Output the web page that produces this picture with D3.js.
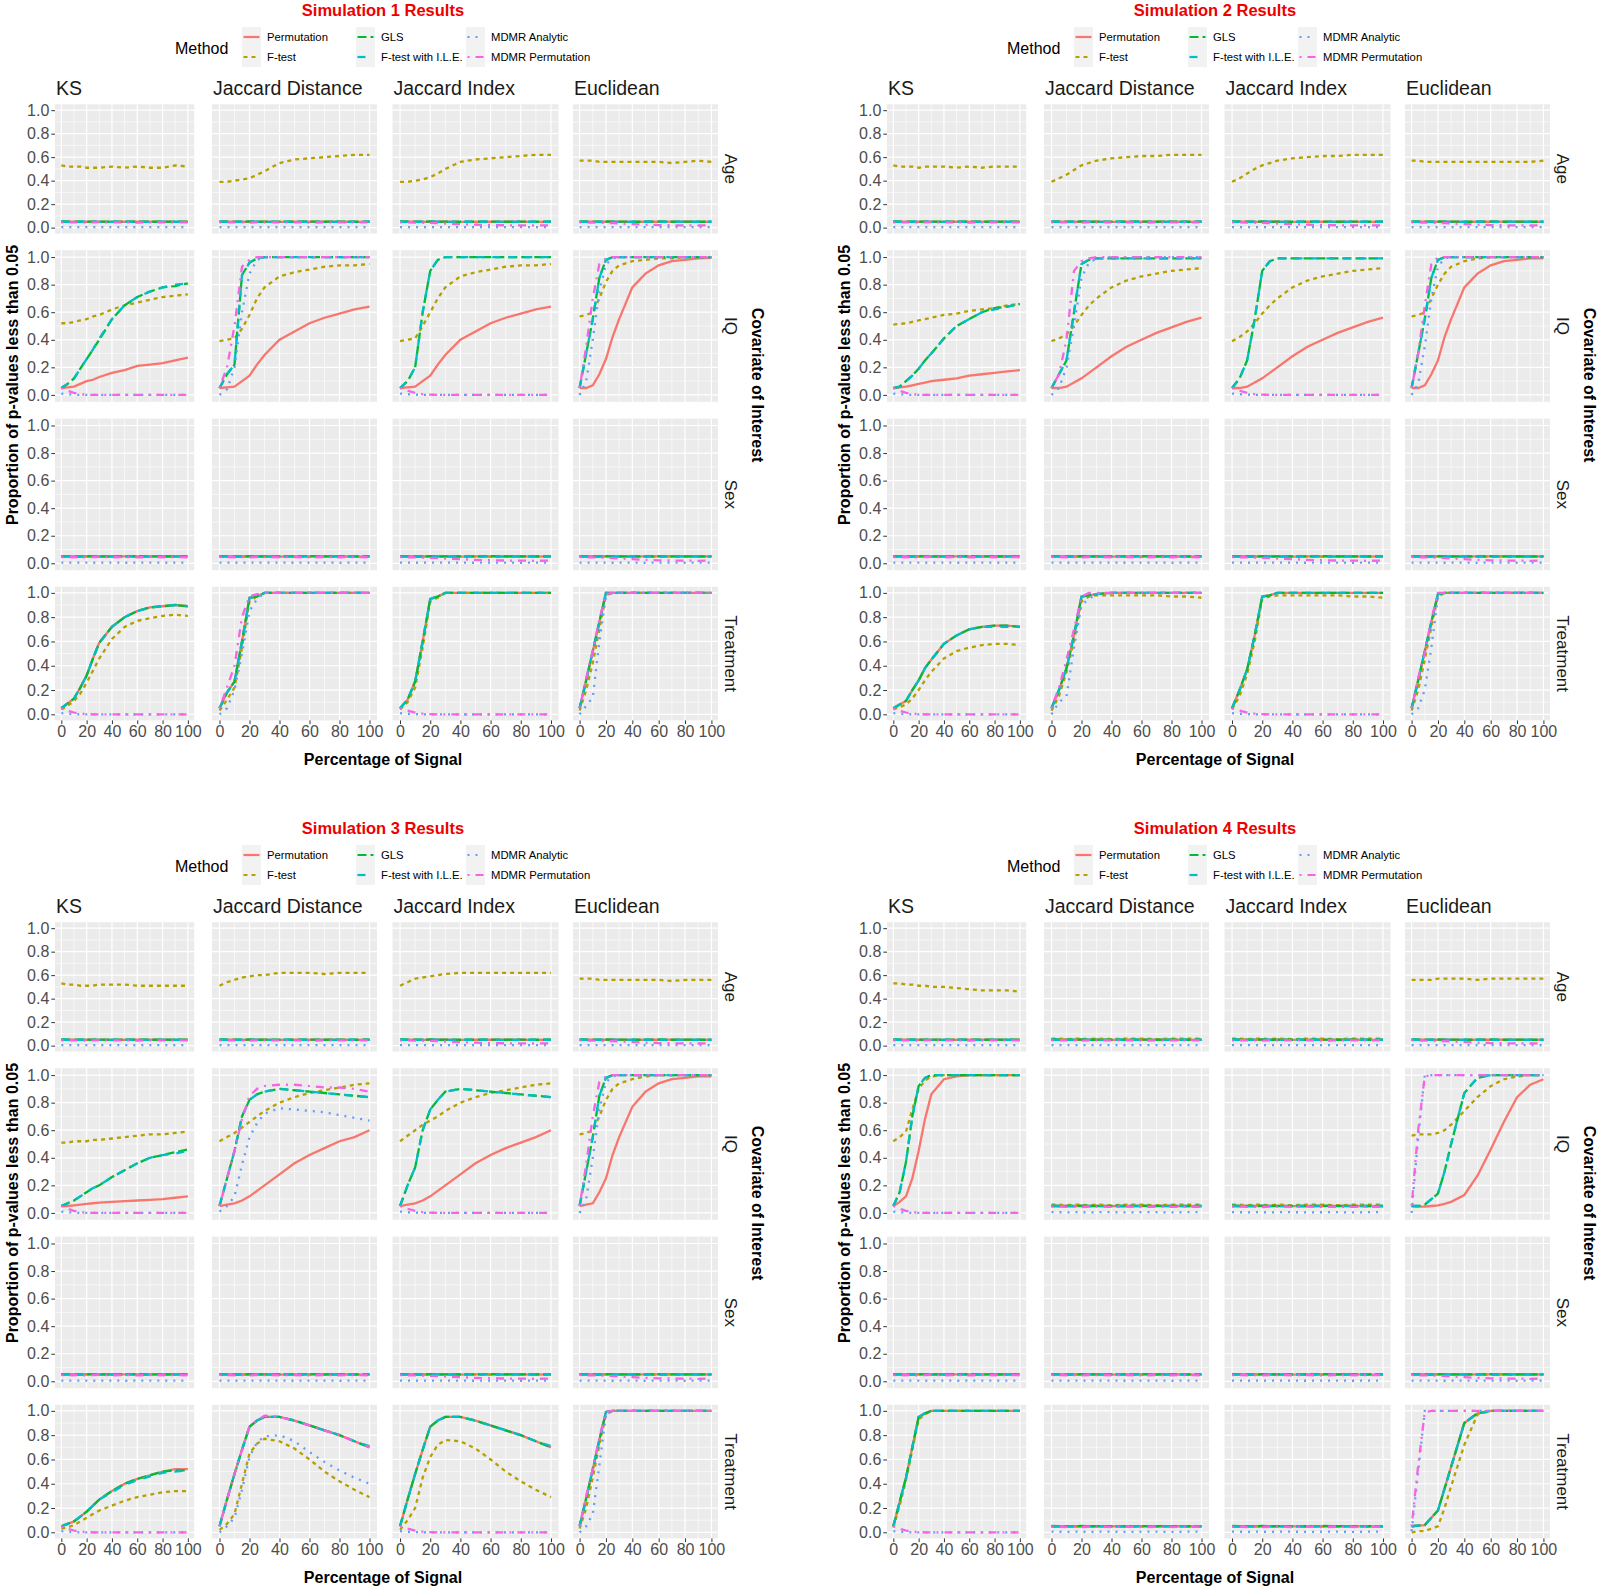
<!DOCTYPE html>
<html><head><meta charset="utf-8">
<script src="https://cdn.jsdelivr.net/npm/d3@7"></script>
<style>body{margin:0;background:#fff} text{font-family:"Liberation Sans", Arial, sans-serif}</style>
</head><body><svg id="chart" width="1600" height="1591"></svg>
<script>
// ---------- categories / labels ----------
const xPct = [0,5,10,15,20,25,30,40,50,60,70,80,90,100];
const methods = ["Permutation","F-test","GLS","F-test with I.L.E.","MDMR Analytic","MDMR Permutation"];
const methodColors = ["#F8766D","#B79F00","#00BA38","#00BFC4","#619CFF","#F564E3"];
const methodDash = ["", "4,4", "9,4", "8,8", "2,6", "2,6,8,6"];
const metrics = ["KS","Jaccard Distance","Jaccard Index","Euclidean"];
const covariates = ["Age","IQ","Sex","Treatment"];
const simTitles = ["Simulation 1 Results","Simulation 2 Results","Simulation 3 Results","Simulation 4 Results"];
const xTicks = [0,20,40,60,80,100];
const xMinor = [10,30,50,70,90];
const yTicks = [0,0.2,0.4,0.6,0.8,1.0];
const yMinor = [0.1,0.3,0.5,0.7,0.9];

// ---------- null-level series ----------
const nullPerm = [0.05,0.051,0.05,0.049,0.05,0.051,0.05,0.049,0.05,0.05,0.051,0.05,0.049,0.05];
const nullF    = [0.05,0.049,0.051,0.05,0.05,0.049,0.05,0.051,0.05,0.049,0.05,0.05,0.051,0.05];
const nullF6   = [0.06,0.06,0.055,0.06,0.06,0.055,0.06,0.055,0.06,0.06,0.055,0.06,0.06,0.06];
const nullGLS  = [0.052,0.05,0.051,0.05,0.052,0.05,0.051,0.05,0.05,0.052,0.05,0.051,0.05,0.05];
const nullILE  = [0.05,0.05,0.049,0.05,0.05,0.05,0.049,0.05,0.05,0.05,0.049,0.05,0.05,0.05];
const nullMA   = [0.005,0.005,0.004,0.005,0.005,0.004,0.005,0.005,0.004,0.005,0.005,0.004,0.005,0.005];
const nullMP   = [0.045,0.046,0.044,0.045,0.043,0.045,0.046,0.044,0.045,0.043,0.045,0.044,0.045,0.044];
const nullMPdip= [0.045,0.044,0.043,0.042,0.04,0.038,0.035,0.03,0.025,0.022,0.02,0.02,0.018,0.02];
const decayMA  = [0.01,0.005,0.002,0,0,0,0,0,0,0,0,0,0,0];
const decayMP  = [0.05,0.03,0.015,0.005,0.002,0,0,0,0,0,0,0,0,0];

// ---------- Simulation 1 ----------
const s1Age = {
  "KS": [nullPerm,[0.53,0.52,0.52,0.52,0.51,0.51,0.51,0.52,0.51,0.52,0.51,0.51,0.53,0.52],nullGLS,nullILE,nullMA,nullMP],
  "Jaccard Distance": [nullPerm,[0.39,0.39,0.40,0.41,0.42,0.45,0.48,0.55,0.58,0.59,0.60,0.61,0.62,0.62],nullGLS,nullILE,nullMA,nullMP],
  "Jaccard Index": [nullPerm,[0.39,0.39,0.40,0.41,0.43,0.46,0.50,0.56,0.58,0.59,0.60,0.61,0.62,0.62],nullGLS,nullILE,nullMA,nullMPdip],
  "Euclidean": [nullPerm,[0.57,0.57,0.57,0.56,0.56,0.56,0.56,0.56,0.56,0.56,0.55,0.56,0.57,0.56],nullGLS,nullILE,nullMA,nullMPdip]
};
const s1IQ = {
  "KS": [[0.05,0.055,0.06,0.08,0.10,0.11,0.13,0.16,0.18,0.21,0.22,0.23,0.25,0.27],
         [0.52,0.52,0.53,0.54,0.55,0.57,0.58,0.62,0.65,0.67,0.69,0.71,0.72,0.73],
         [0.05,0.08,0.12,0.19,0.26,0.33,0.40,0.55,0.65,0.71,0.75,0.78,0.79,0.81],
         [0.05,0.08,0.12,0.19,0.26,0.33,0.41,0.55,0.65,0.71,0.75,0.78,0.80,0.81],decayMA,decayMP],
  "Jaccard Distance": [[0.05,0.055,0.06,0.10,0.14,0.22,0.29,0.40,0.46,0.52,0.56,0.59,0.62,0.64],
         [0.39,0.40,0.41,0.48,0.58,0.70,0.78,0.86,0.89,0.91,0.93,0.94,0.94,0.95],
         [0.05,0.15,0.22,0.87,0.96,0.99,1,1,1,1,1,1,1,1],
         [0.05,0.15,0.22,0.87,0.96,0.99,1,1,1,1,1,1,1,1],
         [0,0.04,0.2,0.6,0.88,0.98,1,1,1,1,1,1,1,1],
         [0.05,0.2,0.5,0.93,0.98,1,1,1,1,1,1,1,1,1]],
  "Jaccard Index": [[0.05,0.055,0.06,0.10,0.14,0.22,0.29,0.40,0.46,0.52,0.56,0.59,0.62,0.64],
         [0.39,0.40,0.41,0.50,0.60,0.70,0.78,0.86,0.89,0.91,0.93,0.94,0.94,0.95],
         [0.05,0.1,0.2,0.6,0.9,0.98,1,1,1,1,1,1,1,1],
         [0.05,0.1,0.2,0.6,0.9,0.98,1,1,1,1,1,1,1,1],decayMA,decayMP],
  "Euclidean": [[0.05,0.05,0.07,0.15,0.26,0.42,0.55,0.78,0.88,0.94,0.97,0.98,0.99,0.995],
         [0.57,0.58,0.60,0.70,0.82,0.90,0.94,0.97,0.98,0.99,0.99,1,1,1],
         [0.05,0.3,0.55,0.85,0.98,1,1,1,1,1,1,1,1,1],
         [0.05,0.3,0.55,0.85,0.98,1,1,1,1,1,1,1,1,1],
         [0,0.1,0.4,0.75,0.95,0.99,1,1,1,1,1,1,1,1],
         [0.05,0.35,0.7,0.95,0.99,1,1,1,1,1,1,1,1,1]]
};
const s1Sex = {
  "KS": [nullPerm,nullF,nullGLS,nullILE,nullMA,nullMP],
  "Jaccard Distance": [nullPerm,nullF,nullGLS,nullILE,nullMA,nullMP],
  "Jaccard Index": [nullPerm,nullF,nullGLS,nullILE,nullMA,nullMPdip],
  "Euclidean": [nullPerm,nullF,nullGLS,nullILE,nullMA,nullMPdip]
};
const s1Trt = {
  "KS": [[0.05,0.09,0.13,0.22,0.32,0.46,0.59,0.72,0.80,0.85,0.88,0.89,0.90,0.89],
         [0.04,0.07,0.11,0.17,0.26,0.36,0.46,0.62,0.72,0.77,0.79,0.81,0.82,0.81],
         [0.05,0.09,0.13,0.22,0.32,0.46,0.59,0.72,0.80,0.85,0.88,0.89,0.90,0.89],
         [0.05,0.09,0.13,0.22,0.32,0.46,0.59,0.72,0.80,0.85,0.88,0.89,0.90,0.89],decayMA,decayMP],
  "Jaccard Distance": [[0.05,0.18,0.27,0.6,0.96,0.97,1,1,1,1,1,1,1,1],
         [0.03,0.12,0.22,0.55,0.93,0.97,1,1,1,1,1,1,1,1],
         [0.05,0.18,0.27,0.6,0.96,0.97,1,1,1,1,1,1,1,1],
         [0.05,0.18,0.27,0.6,0.96,0.97,1,1,1,1,1,1,1,1],
         [0,0.05,0.2,0.5,0.85,0.95,1,1,1,1,1,1,1,1],
         [0.05,0.22,0.4,0.8,0.97,0.99,1,1,1,1,1,1,1,1]],
  "Jaccard Index": [[0.05,0.12,0.27,0.6,0.95,0.97,1,1,1,1,1,1,1,1],
         [0.04,0.1,0.22,0.55,0.93,0.96,1,1,1,1,1,1,1,1],
         [0.05,0.12,0.27,0.6,0.95,0.97,1,1,1,1,1,1,1,1],
         [0.05,0.12,0.27,0.6,0.95,0.97,1,1,1,1,1,1,1,1],decayMA,decayMP],
  "Euclidean": [[0.05,0.28,0.52,0.76,1,1,1,1,1,1,1,1,1,1],
         [0.03,0.2,0.42,0.7,0.98,1,1,1,1,1,1,1,1,1],
         [0.05,0.28,0.52,0.76,1,1,1,1,1,1,1,1,1,1],
         [0.05,0.28,0.52,0.76,1,1,1,1,1,1,1,1,1,1],
         [0,0.07,0.14,0.6,0.97,1,1,1,1,1,1,1,1,1],
         [0.05,0.3,0.52,0.78,0.99,1,1,1,1,1,1,1,1,1]]
};

// ---------- Simulation 2 ----------
const s2Age = {
  "KS": [nullPerm,[0.53,0.52,0.52,0.52,0.51,0.52,0.52,0.52,0.51,0.52,0.51,0.52,0.52,0.52],nullGLS,nullILE,nullMA,nullMP],
  "Jaccard Distance": [nullPerm,[0.39,0.42,0.45,0.49,0.53,0.55,0.57,0.59,0.60,0.61,0.61,0.62,0.62,0.62],nullGLS,nullILE,nullMA,nullMP],
  "Jaccard Index": [nullPerm,[0.39,0.42,0.46,0.50,0.53,0.55,0.57,0.59,0.60,0.61,0.61,0.62,0.62,0.62],nullGLS,nullILE,nullMA,nullMPdip],
  "Euclidean": [nullPerm,[0.57,0.57,0.56,0.56,0.56,0.56,0.56,0.56,0.56,0.56,0.56,0.56,0.56,0.57],nullGLS,nullILE,nullMA,nullMPdip]
};
const s2IQ = {
  "KS": [[0.05,0.055,0.06,0.07,0.08,0.09,0.10,0.11,0.12,0.14,0.15,0.16,0.17,0.18],
         [0.51,0.515,0.52,0.53,0.54,0.55,0.56,0.58,0.59,0.61,0.62,0.63,0.65,0.66],
         [0.05,0.06,0.10,0.14,0.19,0.25,0.30,0.41,0.50,0.55,0.60,0.63,0.64,0.66],
         [0.05,0.06,0.10,0.14,0.19,0.25,0.30,0.41,0.50,0.55,0.60,0.62,0.64,0.66],decayMA,decayMP],
  "Jaccard Distance": [[0.05,0.05,0.06,0.09,0.12,0.16,0.20,0.28,0.35,0.40,0.45,0.49,0.53,0.56],
         [0.39,0.41,0.44,0.50,0.58,0.65,0.70,0.78,0.83,0.86,0.88,0.90,0.91,0.92],
         [0.05,0.15,0.25,0.6,0.95,0.98,0.99,0.99,0.99,0.99,0.99,0.99,0.99,0.99],
         [0.05,0.15,0.25,0.6,0.95,0.98,0.99,0.99,0.99,0.99,0.99,0.99,0.99,0.99],
         [0,0.05,0.2,0.5,0.85,0.96,0.99,1,1,1,1,1,1,1],
         [0.05,0.15,0.4,0.9,0.97,0.99,1,1,1,1,1,1,1,1]],
  "Jaccard Index": [[0.05,0.05,0.06,0.09,0.12,0.16,0.20,0.28,0.35,0.40,0.45,0.49,0.53,0.56],
         [0.39,0.42,0.46,0.52,0.59,0.65,0.70,0.78,0.83,0.86,0.88,0.90,0.91,0.92],
         [0.05,0.12,0.25,0.55,0.9,0.97,0.99,0.99,0.99,0.99,0.99,0.99,0.99,0.99],
         [0.05,0.12,0.25,0.55,0.9,0.97,0.99,0.99,0.99,0.99,0.99,0.99,0.99,0.99],decayMA,decayMP],
  "Euclidean": [[0.05,0.05,0.07,0.15,0.25,0.42,0.55,0.78,0.88,0.94,0.97,0.98,0.99,0.99],
         [0.57,0.58,0.60,0.70,0.80,0.88,0.93,0.97,0.99,1,1,1,1,1],
         [0.05,0.3,0.55,0.85,0.98,1,1,1,1,1,1,1,1,1],
         [0.05,0.3,0.55,0.85,0.98,1,1,1,1,1,1,1,1,1],
         [0,0.08,0.35,0.7,0.93,0.99,1,1,1,1,1,1,1,1],
         [0.05,0.3,0.65,0.95,1,1,1,1,1,1,1,1,1,1]]
};
const s2Sex = {
  "KS": [nullPerm,nullF,nullGLS,nullILE,nullMA,nullMP],
  "Jaccard Distance": [nullPerm,nullF,nullGLS,nullILE,nullMA,nullMP],
  "Jaccard Index": [nullPerm,nullF,nullGLS,nullILE,nullMA,nullMPdip],
  "Euclidean": [nullPerm,nullF,nullGLS,nullILE,nullMA,nullMPdip]
};
const s2Trt = {
  "KS": [[0.05,0.08,0.11,0.20,0.28,0.38,0.45,0.58,0.65,0.70,0.72,0.73,0.73,0.72],
         [0.04,0.06,0.08,0.13,0.20,0.28,0.35,0.46,0.52,0.55,0.57,0.58,0.58,0.57],
         [0.05,0.08,0.11,0.20,0.28,0.38,0.45,0.58,0.65,0.70,0.72,0.73,0.73,0.72],
         [0.05,0.08,0.11,0.20,0.28,0.38,0.45,0.58,0.65,0.70,0.72,0.72,0.72,0.72],decayMA,decayMP],
  "Jaccard Distance": [[0.05,0.2,0.38,0.65,0.97,0.98,0.99,1,1,1,1,1,1,1],
         [0.03,0.15,0.35,0.6,0.93,0.97,0.98,0.98,0.98,0.98,0.98,0.97,0.97,0.96],
         [0.05,0.2,0.38,0.65,0.97,0.98,0.99,1,1,1,1,1,1,1],
         [0.05,0.2,0.38,0.65,0.97,0.98,0.99,1,1,1,1,1,1,1],
         [0,0.1,0.15,0.55,0.9,0.95,0.99,1,1,1,1,1,1,1],
         [0.05,0.22,0.45,0.7,0.97,1,1,1,1,1,1,1,1,1]],
  "Jaccard Index": [[0.05,0.2,0.37,0.65,0.97,0.98,1,1,1,1,1,1,1,1],
         [0.04,0.15,0.33,0.6,0.95,0.97,0.98,0.98,0.98,0.98,0.98,0.97,0.97,0.96],
         [0.05,0.2,0.37,0.65,0.97,0.98,1,1,1,1,1,1,1,1],
         [0.05,0.2,0.37,0.65,0.97,0.98,1,1,1,1,1,1,1,1],decayMA,decayMP],
  "Euclidean": [[0.05,0.28,0.52,0.76,0.99,1,1,1,1,1,1,1,1,1],
         [0.03,0.2,0.45,0.72,0.97,1,1,1,1,1,1,1,1,1],
         [0.05,0.28,0.52,0.76,0.99,1,1,1,1,1,1,1,1,1],
         [0.05,0.28,0.52,0.76,0.99,1,1,1,1,1,1,1,1,1],
         [0,0.05,0.2,0.55,0.97,1,1,1,1,1,1,1,1,1],
         [0.05,0.3,0.5,0.78,1,1,1,1,1,1,1,1,1,1]]
};

// ---------- Simulation 3 ----------
const s3Age = {
  "KS": [nullPerm,[0.53,0.52,0.52,0.51,0.51,0.51,0.52,0.52,0.52,0.51,0.51,0.51,0.51,0.51],nullGLS,nullILE,nullMA,nullMP],
  "Jaccard Distance": [nullPerm,[0.51,0.54,0.56,0.58,0.59,0.60,0.60,0.62,0.62,0.62,0.61,0.62,0.62,0.62],nullGLS,nullILE,nullMA,nullMP],
  "Jaccard Index": [nullPerm,[0.51,0.54,0.57,0.58,0.59,0.60,0.61,0.62,0.62,0.62,0.62,0.62,0.62,0.62],nullGLS,nullILE,nullMA,nullMPdip],
  "Euclidean": [nullPerm,[0.57,0.57,0.57,0.56,0.56,0.56,0.56,0.56,0.56,0.56,0.55,0.56,0.56,0.56],nullGLS,nullILE,nullMA,nullMPdip]
};
const s3IQ = {
  "KS": [[0.05,0.05,0.055,0.06,0.065,0.07,0.075,0.08,0.085,0.09,0.095,0.10,0.11,0.12],
         [0.51,0.51,0.52,0.52,0.52,0.53,0.53,0.54,0.55,0.56,0.57,0.57,0.58,0.59],
         [0.05,0.07,0.09,0.12,0.15,0.18,0.20,0.26,0.31,0.36,0.40,0.42,0.44,0.46],
         [0.05,0.07,0.09,0.12,0.15,0.18,0.20,0.26,0.31,0.36,0.40,0.42,0.43,0.45],decayMA,decayMP],
  "Jaccard Distance": [[0.05,0.06,0.07,0.09,0.12,0.16,0.20,0.28,0.36,0.42,0.47,0.52,0.55,0.60],
         [0.52,0.55,0.58,0.62,0.66,0.70,0.74,0.80,0.84,0.87,0.89,0.91,0.93,0.94],
         [0.05,0.25,0.45,0.7,0.82,0.86,0.88,0.90,0.89,0.88,0.87,0.86,0.85,0.84],
         [0.05,0.25,0.45,0.7,0.82,0.86,0.88,0.90,0.89,0.88,0.87,0.86,0.85,0.84],
         [0.01,0.05,0.12,0.35,0.55,0.65,0.72,0.76,0.75,0.74,0.73,0.71,0.69,0.67],
         [0.05,0.25,0.45,0.68,0.85,0.90,0.92,0.93,0.93,0.92,0.91,0.91,0.90,0.88]],
  "Jaccard Index": [[0.05,0.06,0.07,0.09,0.12,0.16,0.20,0.28,0.36,0.42,0.47,0.51,0.55,0.60],
         [0.52,0.56,0.60,0.64,0.67,0.70,0.74,0.80,0.84,0.87,0.89,0.91,0.93,0.94],
         [0.05,0.2,0.33,0.6,0.75,0.82,0.88,0.90,0.89,0.88,0.87,0.86,0.85,0.84],
         [0.05,0.2,0.33,0.6,0.75,0.82,0.88,0.90,0.89,0.88,0.87,0.86,0.85,0.84],decayMA,decayMP],
  "Euclidean": [[0.05,0.06,0.07,0.15,0.25,0.42,0.55,0.77,0.88,0.94,0.97,0.98,0.99,0.99],
         [0.57,0.58,0.60,0.70,0.82,0.90,0.94,0.97,0.99,1,1,1,1,1],
         [0.05,0.3,0.55,0.85,0.98,1,1,1,1,1,1,1,1,1],
         [0.05,0.3,0.55,0.85,0.98,1,1,1,1,1,1,1,1,1],
         [0,0.1,0.4,0.75,0.95,0.99,1,1,1,1,1,1,1,1],
         [0.05,0.35,0.7,0.95,0.99,1,1,1,1,1,1,1,1,1]]
};
const s3Sex = {
  "KS": [nullPerm,nullF,nullGLS,nullILE,nullMA,nullMP],
  "Jaccard Distance": [nullPerm,nullF,nullGLS,nullILE,nullMA,nullMP],
  "Jaccard Index": [nullPerm,nullF,nullGLS,nullILE,nullMA,nullMPdip],
  "Euclidean": [nullPerm,nullF,nullGLS,nullILE,nullMA,nullMPdip]
};
const s3Trt = {
  "KS": [[0.05,0.07,0.09,0.13,0.17,0.22,0.27,0.34,0.40,0.44,0.47,0.50,0.52,0.52],
         [0.03,0.04,0.06,0.09,0.12,0.15,0.18,0.22,0.26,0.29,0.31,0.33,0.34,0.34],
         [0.05,0.07,0.09,0.13,0.17,0.22,0.27,0.34,0.40,0.44,0.47,0.50,0.51,0.51],
         [0.05,0.07,0.09,0.13,0.17,0.22,0.27,0.33,0.39,0.43,0.46,0.49,0.50,0.51],decayMA,decayMP],
  "Jaccard Distance": [[0.05,0.27,0.48,0.68,0.87,0.92,0.95,0.95,0.92,0.88,0.84,0.80,0.75,0.70],
         [0.02,0.07,0.15,0.40,0.65,0.73,0.77,0.75,0.69,0.60,0.50,0.42,0.35,0.29],
         [0.05,0.27,0.48,0.68,0.87,0.92,0.95,0.95,0.92,0.88,0.84,0.80,0.75,0.70],
         [0.05,0.27,0.48,0.68,0.87,0.92,0.95,0.95,0.92,0.88,0.84,0.80,0.75,0.71],
         [0,0.05,0.12,0.35,0.62,0.74,0.79,0.80,0.75,0.66,0.58,0.51,0.45,0.40],
         [0.05,0.27,0.48,0.68,0.87,0.92,0.96,0.95,0.92,0.88,0.84,0.80,0.75,0.70]],
  "Jaccard Index": [[0.05,0.27,0.48,0.68,0.87,0.92,0.95,0.95,0.92,0.88,0.84,0.80,0.75,0.70],
         [0.02,0.10,0.20,0.45,0.62,0.72,0.76,0.75,0.69,0.60,0.50,0.42,0.35,0.29],
         [0.05,0.27,0.48,0.68,0.87,0.92,0.95,0.95,0.92,0.88,0.84,0.80,0.75,0.70],
         [0.05,0.27,0.48,0.68,0.87,0.92,0.95,0.95,0.92,0.88,0.84,0.80,0.75,0.71],decayMA,decayMP],
  "Euclidean": [[0.05,0.28,0.52,0.76,0.99,1,1,1,1,1,1,1,1,1],
         [0.03,0.2,0.45,0.72,0.97,1,1,1,1,1,1,1,1,1],
         [0.05,0.28,0.52,0.76,0.99,1,1,1,1,1,1,1,1,1],
         [0.05,0.28,0.52,0.76,0.99,1,1,1,1,1,1,1,1,1],
         [0,0.05,0.15,0.55,0.97,1,1,1,1,1,1,1,1,1],
         [0.05,0.3,0.52,0.78,0.99,1,1,1,1,1,1,1,1,1]]
};

// ---------- Simulation 4 ----------
const s4Age = {
  "KS": [nullPerm,[0.53,0.53,0.52,0.52,0.51,0.51,0.50,0.50,0.49,0.48,0.47,0.47,0.47,0.46],nullGLS,nullILE,nullMA,nullMP],
  "Jaccard Distance": [nullPerm,nullF6,nullGLS,nullILE,nullMA,nullMP],
  "Jaccard Index": [nullPerm,nullF6,nullGLS,nullILE,nullMA,nullMP],
  "Euclidean": [nullPerm,[0.56,0.56,0.56,0.56,0.57,0.57,0.57,0.57,0.56,0.57,0.57,0.57,0.57,0.57],nullGLS,nullILE,nullMA,nullMPdip]
};
const s4IQ = {
  "KS": [[0.05,0.08,0.12,0.25,0.45,0.68,0.86,0.97,0.99,1,1,1,1,1],
         [0.52,0.55,0.59,0.75,0.90,0.96,0.99,1,1,1,1,1,1,1],
         [0.05,0.15,0.37,0.7,0.92,0.98,1,1,1,1,1,1,1,1],
         [0.05,0.15,0.37,0.7,0.92,0.98,1,1,1,1,1,1,1,1],decayMA,decayMP],
  "Jaccard Distance": [nullPerm,nullF6,nullGLS,nullILE,nullMA,nullMP],
  "Jaccard Index": [nullPerm,nullF6,nullGLS,nullILE,nullMA,nullMP],
  "Euclidean": [[0.05,0.045,0.045,0.05,0.055,0.065,0.08,0.13,0.27,0.46,0.66,0.84,0.93,0.97],
         [0.56,0.57,0.57,0.57,0.58,0.60,0.64,0.74,0.84,0.92,0.97,0.99,1,1],
         [0.05,0.05,0.06,0.10,0.14,0.30,0.50,0.87,0.98,1,1,1,1,1],
         [0.05,0.05,0.06,0.10,0.14,0.30,0.50,0.87,0.98,1,1,1,1,1],
         [0,0.55,1,1,1,1,1,1,1,1,1,1,1,1],
         [0.05,0.6,0.99,1,1,1,1,1,1,1,1,1,1,1]]
};
const s4Sex = {
  "KS": [nullPerm,nullF,nullGLS,nullILE,nullMA,nullMP],
  "Jaccard Distance": [nullPerm,nullF,nullGLS,nullILE,nullMA,nullMP],
  "Jaccard Index": [nullPerm,nullF,nullGLS,nullILE,nullMA,nullMP],
  "Euclidean": [nullPerm,nullF,nullGLS,nullILE,nullMA,nullMPdip]
};
const s4Trt = {
  "KS": [[0.05,0.25,0.45,0.7,0.95,0.98,1,1,1,1,1,1,1,1],
         [0.04,0.22,0.43,0.68,0.93,0.97,1,1,1,1,1,1,1,1],
         [0.05,0.25,0.45,0.7,0.95,0.98,1,1,1,1,1,1,1,1],
         [0.05,0.25,0.45,0.7,0.95,0.98,1,1,1,1,1,1,1,1],decayMA,decayMP],
  "Jaccard Distance": [nullPerm,nullF,nullGLS,nullILE,nullMA,nullMP],
  "Jaccard Index": [nullPerm,nullF,nullGLS,nullILE,nullMA,nullMP],
  "Euclidean": [[0.05,0.055,0.06,0.12,0.18,0.36,0.54,0.90,0.98,1,1,1,1,1],
         [0,0.01,0.01,0.03,0.05,0.20,0.38,0.72,0.97,1,1,1,1,1],
         [0.05,0.055,0.06,0.12,0.18,0.36,0.54,0.90,0.98,1,1,1,1,1],
         [0.05,0.055,0.06,0.12,0.18,0.36,0.54,0.90,0.98,1,1,1,1,1],
         [0.01,0.5,1,1,1,1,1,1,1,1,1,1,1,1],
         [0.05,0.55,0.99,1,1,1,1,1,1,1,1,1,1,1]]
};

const simulations = [
  [s1Age,s1IQ,s1Sex,s1Trt],
  [s2Age,s2IQ,s2Sex,s2Trt],
  [s3Age,s3IQ,s3Sex,s3Trt],
  [s4Age,s4IQ,s4Sex,s4Trt]
];

// ---------- layout ----------
const quadOffsets = [[0,0],[832,0],[0,818],[832,818]];
const colLeft  = [55, 212, 392.5, 573];
const colRight = [194.2, 377, 558.5, 718];
const rowTop    = [104.3, 250.2, 418.6, 586.8];
const rowBottom = [233.5, 401.8, 570.2, 720.4];

const svg = d3.select("#chart");
svg.append("rect").attr("width",1600).attr("height",1591).attr("fill","#fff");

simulations.forEach((rows, si) => {
  const q = svg.append("g").attr("transform", `translate(${quadOffsets[si][0]},${quadOffsets[si][1]})`);

  // title
  q.append("text").attr("x", 383).attr("y", 16).attr("text-anchor","middle")
    .attr("font-size", 16.5).attr("font-weight","bold").attr("fill","#EE0000").text(simTitles[si]);

  // legend
  q.append("text").attr("x", 175).attr("y", 53.5).attr("font-size", 16).attr("fill","#000").text("Method");
  const keyX = [242, 356, 466];
  const keyY = [27, 47];
  methods.forEach((m, mi) => {
    const kc = Math.floor(mi / 2), kr = mi % 2;
    const kx = keyX[kc], ky = keyY[kr];
    q.append("rect").attr("x", kx).attr("y", ky).attr("width", 19).attr("height", 20).attr("fill", "#F2F2F2");
    q.append("line").attr("x1", kx + 1.5).attr("x2", kx + 17.5).attr("y1", ky + 10).attr("y2", ky + 10)
      .attr("stroke", methodColors[mi]).attr("stroke-width", 2.2).attr("stroke-dasharray", methodDash[mi] || null);
    q.append("text").attr("x", kx + 25).attr("y", ky + 14).attr("font-size", 11.3).attr("fill","#000").text(m);
  });

  rows.forEach((rowData, ri) => {
    metrics.forEach((metric, ci) => {
      const x = d3.scaleLinear().domain([-5,105]).range([colLeft[ci], colRight[ci]]);
      const y = d3.scaleLinear().domain([-0.05,1.05]).range([rowBottom[ri], rowTop[ri]]);
      const p = q.append("g");
      p.append("rect").attr("x", colLeft[ci]).attr("y", rowTop[ri])
        .attr("width", colRight[ci]-colLeft[ci]).attr("height", rowBottom[ri]-rowTop[ri]).attr("fill","#EBEBEB");
      // minor grid
      p.selectAll(null).data(xMinor).join("line")
        .attr("x1", d=>x(d)).attr("x2", d=>x(d)).attr("y1", rowTop[ri]).attr("y2", rowBottom[ri])
        .attr("stroke","#fff").attr("stroke-width",0.6);
      p.selectAll(null).data(yMinor).join("line")
        .attr("y1", d=>y(d)).attr("y2", d=>y(d)).attr("x1", colLeft[ci]).attr("x2", colRight[ci])
        .attr("stroke","#fff").attr("stroke-width",0.6);
      // major grid
      p.selectAll(null).data(xTicks).join("line")
        .attr("x1", d=>x(d)).attr("x2", d=>x(d)).attr("y1", rowTop[ri]).attr("y2", rowBottom[ri])
        .attr("stroke","#fff").attr("stroke-width",1.2);
      p.selectAll(null).data(yTicks).join("line")
        .attr("y1", d=>y(d)).attr("y2", d=>y(d)).attr("x1", colLeft[ci]).attr("x2", colRight[ci])
        .attr("stroke","#fff").attr("stroke-width",1.2);

      // lines
      const line = d3.line().x((d,i)=>x(xPct[i])).y(d=>y(d));
      rowData[metric].forEach((series, mi) => {
        p.append("path").attr("d", line(series)).attr("fill","none")
          .attr("stroke", methodColors[mi]).attr("stroke-width", 2.3)
          .attr("stroke-dasharray", methodDash[mi] || null);
      });

      // y axis on first column
      if (ci === 0) {
        const ax = p.append("g").attr("transform", `translate(${colLeft[ci]},0)`)
          .call(d3.axisLeft(y).tickValues(yTicks).tickFormat(d3.format(".1f")).tickSize(3.7).tickPadding(2));
        ax.select(".domain").remove();
        ax.selectAll(".tick line").attr("stroke","#333");
        ax.selectAll(".tick text").attr("font-size",16).attr("fill","#4D4D4D").attr("font-family","Liberation Sans, Arial, sans-serif");
      }
      // x axis on bottom row
      if (ri === 3) {
        const ax = p.append("g").attr("transform", `translate(0,${rowBottom[ri]})`)
          .call(d3.axisBottom(x).tickValues(xTicks).tickFormat(d3.format("d")).tickSize(3.7).tickPadding(2));
        ax.select(".domain").remove();
        ax.selectAll(".tick line").attr("stroke","#333");
        ax.selectAll(".tick text").attr("font-size",16).attr("fill","#4D4D4D").attr("font-family","Liberation Sans, Arial, sans-serif");
      }
      // top strips
      if (ri === 0) {
        q.append("text").attr("x", colLeft[ci] + 1).attr("y", 95).attr("font-size", 19.5).attr("fill","#1A1A1A").text(metric);
      }
      // right strips
      if (ci === 3) {
        const cy = (rowTop[ri] + rowBottom[ri]) / 2;
        q.append("text").attr("transform", `translate(${colRight[ci] + 7},${cy}) rotate(90)`)
          .attr("text-anchor","middle").attr("font-size", 17).attr("fill","#1A1A1A").text(covariates[ri]);
      }
    });
  });

  // axis titles
  q.append("text").attr("x", 383).attr("y", 765).attr("text-anchor","middle")
    .attr("font-size",16).attr("font-weight","bold").text("Percentage of Signal");
  q.append("text").attr("transform", `translate(18,385) rotate(-90)`).attr("text-anchor","middle")
    .attr("font-size",16).attr("font-weight","bold").text("Proportion of p-values less than 0.05");
  q.append("text").attr("transform", `translate(752,385) rotate(90)`).attr("text-anchor","middle")
    .attr("font-size",16).attr("font-weight","bold").text("Covariate of Interest");
});
</script></body></html>
